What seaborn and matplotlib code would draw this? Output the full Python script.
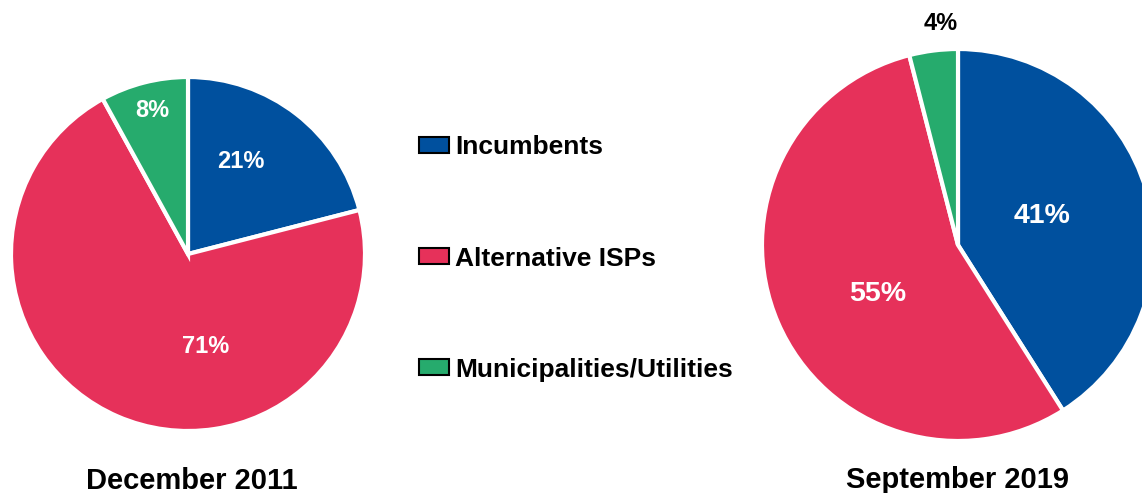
import matplotlib
matplotlib.use("Agg")
import matplotlib.pyplot as plt
from matplotlib.patches import Patch
import seaborn as sns

# dane z wykresu
categories = ["Incumbents", "Alternative ISPs", "Municipalities/Utilities"]
share_2011 = [21, 71, 8]
share_2019 = [41, 55, 4]
period_2011 = "December 2011"
period_2019 = "September 2019"

colors = ["#00509E", "#E6315A", "#26AB6D"]

sns.set_theme(style="white")
plt.rcParams["font.family"] = ["Liberation Sans", "DejaVu Sans"]
plt.rcParams["text.color"] = "black"

W, H = 1142, 493
fig = plt.figure(figsize=(W / 100, H / 100), dpi=100)


def pie_axes(cx, cy, r):
    # pozycja osi w pikselach -> ulamki figury
    return fig.add_axes([(cx - r) / W, (H - cy - r) / H, 2 * r / W, 2 * r / H])


def draw_pie(ax, values):
    wedges, texts = ax.pie(values, colors=colors, startangle=90, counterclock=False,
                           radius=1, wedgeprops=dict(edgecolor="white", linewidth=3))
    ax.set_xlim(-1, 1)
    ax.set_ylim(-1, 1)
    ax.set_aspect("equal")
    ax.axis("off")
    return wedges


# lewy wykres (2011)
ax1 = pie_axes(188, 254, 177)
draw_pie(ax1, share_2011)
lab_pos_1 = [(0.30, 0.52), (0.10, -0.52), (-0.20, 0.81)]
for v, (x, y) in zip(share_2011, lab_pos_1):
    ax1.text(x, y, f"{v}%", ha="center", va="center", color="white",
             fontsize=17, fontweight="bold")
ax1.text(0.02, -1.28, period_2011, ha="center", va="center", fontsize=21,
         fontweight="bold", clip_on=False)

# prawy wykres (2019)
ax2 = pie_axes(958, 245, 196)
draw_pie(ax2, share_2019)
lab_pos_2 = [(0.43, 0.15), (-0.41, -0.25), (-0.09, 1.13)]
lab_col_2 = ["white", "white", "black"]
lab_size_2 = [20.5, 20.5, 17]
for v, (x, y), c, s in zip(share_2019, lab_pos_2, lab_col_2, lab_size_2):
    ax2.text(x, y, f"{v}%", ha="center", va="center", color=c,
             fontsize=s, fontweight="bold", clip_on=False)
ax2.text(0.0, -1.2, period_2019, ha="center", va="center", fontsize=21,
         fontweight="bold", clip_on=False)

# legenda
handles = [Patch(facecolor=c, edgecolor="black", linewidth=1.5) for c in colors]
fig.legend(handles, categories, loc="center left", bbox_to_anchor=(419 / W, 1 - 258.5 / H),
           frameon=False, prop=dict(size=19, weight="bold"), handlelength=1.14,
           handleheight=0.57, handletextpad=0.23, labelspacing=3.3,
           borderpad=0, borderaxespad=0)

fig.savefig("out.png", dpi=100, facecolor="white")
